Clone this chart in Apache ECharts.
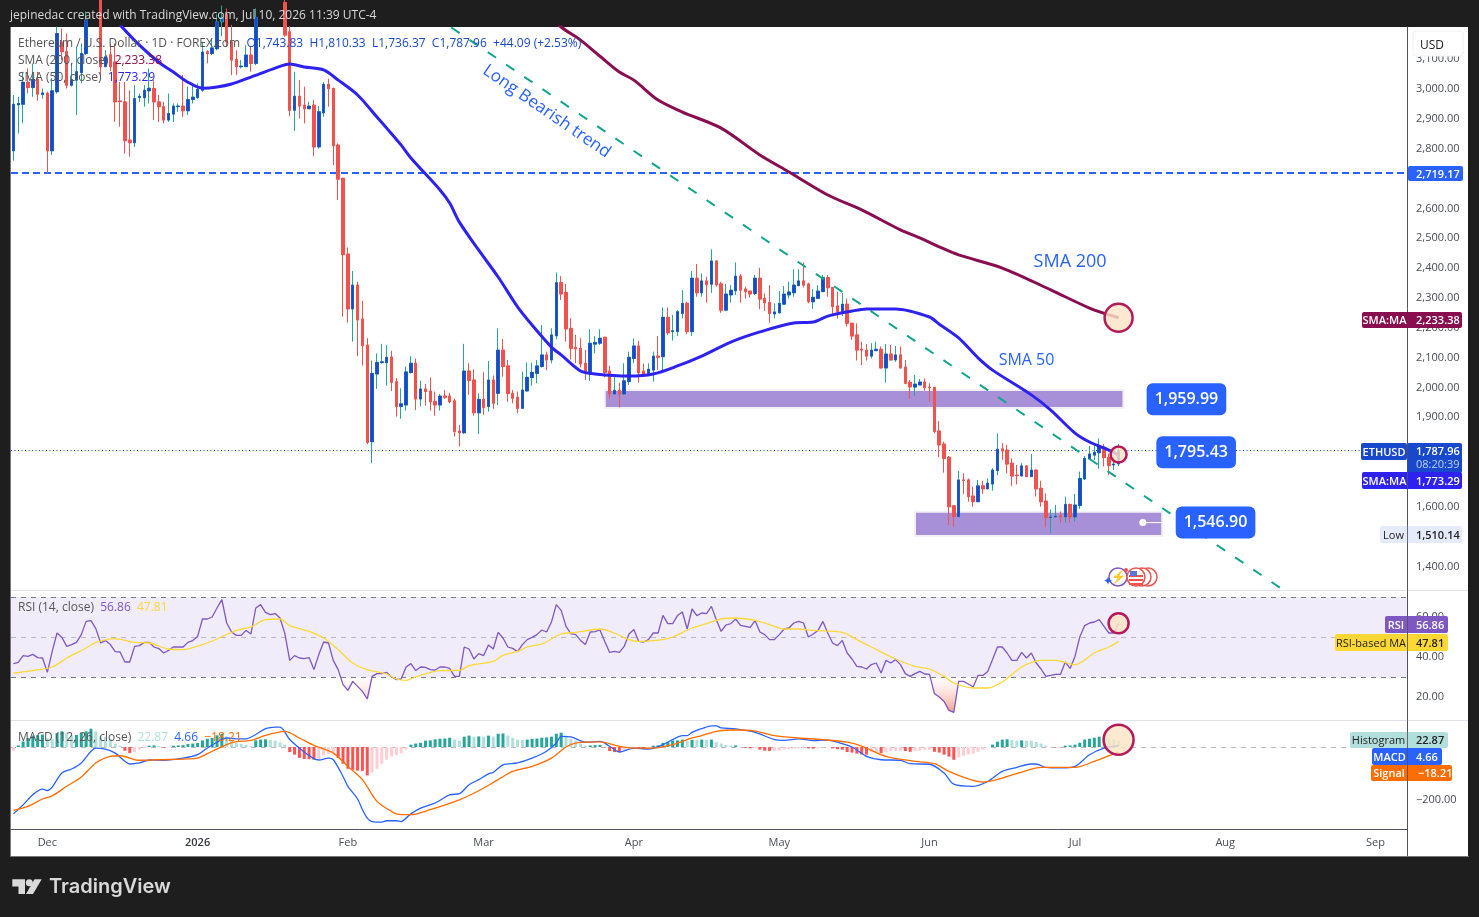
<!DOCTYPE html>
<html><head><meta charset="utf-8">
<style>html,body{margin:0;padding:0;background:#1e1e1e;overflow:hidden}#c{width:1479px;height:917px}</style>
<script src="https://cdn.jsdelivr.net/npm/echarts@6/dist/echarts.min.js"></script>
</head><body><div id="c"></div>
<script>
// Daily bars from 24 Nov 2025: open, close, low, high (bars above the visible window are estimates)
const candles=[
[2793,2949,2760,2980],[2947,2952,2851,2974],[2949,3023,2885,3058],[3023,3005,2985,3069],[3005,3032,2974,3086],
[3032,2983,2961,3058],[2982,2987,2968,3002],[2986,2793,2717,2991],[2793,2994,2779,3036],[2991,3186,2985,3209],
[3157,3125,3097,3203],[3126,3013,3002,3186],[3013,3032,3008,3086],[3030,3058,2913,3142],[3055,3119,3019,3153],
[3119,3231,3114,3260],[3232,3280,3215,3310],[3280,3300,3225,3340],[3300,3075,3041,3320],[3075,3108,3075,3130],
[3115,3075,3060,3150],[3091,2957,2890,3153],[2960,2958,2874,3024],[2957,2827,2784,3024],[2829,2820,2773,2996],
[2820,2968,2806,3013],[2972,2976,2957,2985],[2971,2996,2941,3013],[2994,3003,2952,3069],[3002,2957,2896,3030],
[2957,2941,2890,2980],[2941,2896,2885,2957],[2896,2918,2890,2985],[2916,2943,2890,2952],[2941,2943,2924,2952],
[2943,2927,2907,3047],[2927,2965,2913,3008],[2965,2973,2952,3019],[2971,2999,2968,3019],[2996,3124,2991,3158],
[3125,3119,3086,3130],[3119,3138,3114,3170],[3135,3225,3130,3250],[3225,3240,3177,3280],[3250,3158,3142,3270],
[3158,3097,3047,3215],[3099,3075,3047,3130],[3075,3077,3069,3097],[3075,3114,3075,3147],[3114,3086,3058,3142],
[3086,3240,3080,3270],[3240,3280,3215,3310],[3280,3320,3240,3350],[3320,3340,3280,3370],[3340,3310,3270,3380],
[3310,3290,3250,3340],[3290,3181,3175,3310],[3192,2929,2909,3210],[2929,2976,2860,3058],[2976,2943,2901,3030],
[2946,2934,2885,3008],[2934,2943,2933,2957],[2946,2806,2775,2963],[2806,2924,2800,2943],[2920,3016,2907,3024],
[3016,3002,2941,3035],[3002,2810,2745,3005],[2812,2698,2628,2818],[2701,2445,2237,2702],[2447,2263,2217,2469],
[2263,2343,2153,2390],[2343,2226,2105,2354],[2229,2140,2073,2290],[2142,1816,1810,2165],[1818,2047,1746,2090],
[2045,2084,1995,2114],[2083,2086,2080,2146],[2083,2101,2006,2142],[2102,2017,1988,2123],[2019,1936,1902,2031],
[1936,1945,1895,1997],[1941,2052,1922,2070],[2050,2081,2047,2105],[2081,1961,1924,2097],[1961,1995,1936,2022],
[1995,1986,1939,2012],[1988,1952,1922,2034],[1953,1941,1905,1986],[1941,1971,1922,1978],[1971,1967,1961,1991],
[1971,1952,1947,1982],[1955,1852,1835,1963],[1854,1848,1802,1874],[1848,2055,1844,2146],[2055,2023,1975,2081],
[2025,1915,1905,2061],[1915,1960,1844,1980],[1960,1933,1908,2051],[1936,2025,1919,2089],[2025,1947,1928,2040],
[1980,2125,1941,2198],[2125,2070,2036,2162],[2072,1980,1952,2092],[1980,1964,1947,1991],[1967,1930,1913,1986],
[1930,1991,1928,2053],[1988,2034,1986,2084],[2033,2050,2006,2083],[2047,2072,2014,2092],[2070,2109,2067,2209],
[2109,2092,2058,2120],[2092,2176,2081,2198],[2173,2351,2161,2385],[2351,2313,2293,2373],[2318,2196,2153,2347],
[2198,2131,2094,2232],[2134,2129,2081,2176],[2131,2079,2067,2165],[2081,2047,2025,2125],[2047,2148,2022,2195],
[2145,2151,2114,2172],[2148,2165,2142,2195],[2168,2050,2034,2170],[2055,1978,1963,2072],[1978,1990,1977,2042],
[1990,1978,1933,2016],[1978,2022,1975,2081],[2020,2101,2008,2120],[2097,2139,2081,2164],[2139,2049,2016,2156],
[2055,2042,2035,2080],[2042,2061,2038,2081],[2058,2105,2019,2120],[2105,2101,2058,2172],[2103,2235,2058,2268],
[2235,2183,2176,2268],[2187,2190,2157,2243],[2187,2254,2172,2259],[2248,2282,2231,2326],[2282,2187,2178,2287],
[2187,2366,2173,2390],[2366,2317,2304,2414],[2317,2357,2304,2382],[2357,2344,2284,2371],[2346,2424,2317,2463],
[2424,2344,2338,2424],[2347,2259,2250,2354],[2259,2313,2255,2347],[2310,2326,2284,2343],[2324,2373,2310,2419],
[2373,2326,2284,2380],[2330,2321,2298,2338],[2323,2313,2301,2323],[2315,2366,2310,2377],[2366,2296,2262,2401],
[2298,2284,2256,2315],[2285,2248,2217,2343],[2246,2253,2231,2282],[2250,2282,2248,2323],[2279,2313,2279,2340],
[2310,2320,2298,2354],[2317,2343,2304,2396],[2341,2357,2341,2396],[2357,2343,2335,2419],[2347,2287,2282,2351],
[2287,2302,2263,2330],[2298,2323,2298,2343],[2321,2368,2321,2377],[2368,2334,2304,2377],[2335,2271,2239,2335],
[2273,2254,2231,2321],[2254,2279,2239,2317],[2279,2215,2204,2298],[2215,2172,2159,2215],[2176,2125,2090,2215],
[2128,2125,2075,2153],[2125,2105,2090,2145],[2105,2125,2097,2148],[2123,2128,2123,2153],[2128,2065,2064,2137],
[2065,2112,2016,2145],[2112,2092,2090,2142],[2092,2109,2086,2139],[2109,2065,2064,2137],[2068,2014,2011,2092],
[2017,2002,1961,2025],[2001,2011,1971,2042],[2008,2018,2008,2028],[2018,1999,1989,2030],[2001,1999,1952,2014],
[2000,1852,1846,2001],[1854,1807,1766,1887],[1810,1762,1714,1818],[1766,1600,1539,1770],[1603,1567,1533,1606],
[1567,1690,1567,1720],[1690,1688,1643,1712],[1690,1634,1617,1695],[1636,1617,1600,1667],[1617,1670,1615,1690],
[1670,1660,1643,1687],[1660,1679,1658,1695],[1676,1723,1654,1729],[1721,1793,1706,1846],[1794,1787,1757,1813],
[1790,1743,1712,1807],[1746,1703,1670,1762],[1706,1704,1675,1740],[1703,1737,1701,1746],[1737,1701,1700,1738],
[1701,1723,1700,1777],[1723,1660,1634,1725],[1662,1617,1600,1687],[1619,1564,1531,1645],[1564,1566,1510,1591],
[1566,1568,1563,1606],[1570,1566,1547,1584],[1566,1608,1547,1634],[1608,1566,1547,1610],[1566,1606,1550,1643],
[1604,1695,1593,1718],[1693,1762,1690,1770],[1760,1777,1757,1804],[1773,1783,1757,1807],[1781,1801,1727,1829],
[1799,1765,1735,1810],[1766,1738,1706,1778],[1740,1743,1723,1766],[1743.83,1787.96,1736.37,1810.33]
];
// SMA 50 and SMA 200: [bar number, value] read at points along each line
const sma50=[[22,3215],[26,3147],[30,3090],[33,3057],[36,3023],[39,3003],[42,3007],[45,3017],[49,3040],[54,3070],[57,3084],[60,3074],[64,3064],[67,3030],[71,2980],[75,2906],[77,2869],[80,2812],[82,2769],[88,2662],[90,2618],[92,2554],[96,2460],[100,2370],[104,2270],[107,2209],[111,2135],[113,2109],[117,2055],[120,2045],[127,2038],[132,2045],[137,2072],[142,2105],[148,2152],[154,2186],[161,2216],[165,2219],[168,2239],[173,2256],[176,2263],[182,2263],[189,2236],[191,2212],[195,2166],[199,2099],[202,2058],[210,1975],[214,1924],[219,1847],[222,1817],[225,1797],[228,1773.29]];
const sma200=[[110,3258],[113,3208],[117,3164],[121,3110],[125,3057],[128,3030],[133,2963],[138,2923],[146,2869],[154,2779],[160,2722],[168,2645],[175,2595],[183,2528],[187,2501],[191,2471],[195,2444],[204,2400],[214,2327],[222,2266],[228,2233.38]];
const trendLine=[[90,3210],[262,1321]];
const resistanceLevel=2719.17, lastClose=1787.96;
const rsi=[36.7,37.3,40.7,40.3,41.3,39.7,39.5,32.3,42.8,52,
49.8,45.3,46.2,47.3,51.2,57.8,58.2,54.2,47,48.2,
46.2,42.7,42.5,37.5,37.5,45.3,45.7,47.3,47.3,45,
44.2,42,43.3,45,45,45,47.3,48.2,50.3,59,
59,60,64.5,68.7,57,52.5,50.8,50.8,53.3,51.5,
64.5,66.2,62.3,61.2,61.7,59.5,51.7,38.3,40.7,39.5,
39.2,39.7,33.7,41.2,47.5,47,38.2,33.7,26.2,23.3,
27.8,25.3,22.8,19,30.3,31.7,31.7,32.3,30,28.7,
29,35,36.7,33.2,35,34.8,33.7,33.5,35,35,
34.3,30.3,30.3,45,44,39,41.7,40.7,46,44,
52.3,49.5,45,44.3,42.7,46.2,48.7,49.8,51.2,53.5,
52.5,57.5,66.2,63.3,55.3,51.7,51.2,48.3,46.2,52.5,
52.7,53.5,47.8,42.3,42.8,42.3,45.3,51.5,53.7,47.8,
47.5,48.7,52,52,60.8,56.7,56.7,60.7,62.5,54,
64,60.7,62,61.7,65.3,58.7,52.8,56,56.7,59,
55.8,55.3,54.8,58.2,52.5,51.2,48.7,48.7,51.2,54,
54.5,57,57.8,57,50,51.5,53.3,57.8,52,47,
45.7,48.3,42,39,35.3,35,34,36.2,37,32,
38.3,37,38.7,36.2,31.7,30.3,31.7,32.8,31.5,31.3,
21.7,20,17.8,13.3,12.3,27.8,27.8,26.5,25,30.8,
30.8,32.8,38.7,45,45,42,38.3,38.3,42.3,39.5,
42,37,34,30.3,30.8,31.3,31.3,37.5,34.3,40.3,
50,55.7,57,57.5,58.7,55.3,52,52,56.86];
const rsiMA=[[0,32],[4,33.2],[8,35],[11,39.5],[15,44.5],[17,47.3],[21,49.2],[25,47.3],[28,47],[32,44],[35,43.7],[39,46.2],[42,49],[46,53.3],[49,55],[52,58.7],[55,59],[57,55.7],[61,52.8],[64,49.5],[67,43.7],[70,37],[73,33.7],[77,31.5],[79,29],[81,28.3],[83,30],[88,33.2],[92,33.3],[94,35.7],[99,37.8],[101,40.8],[104,42.8],[106,45],[109,46.5],[113,51.5],[116,52.3],[121,54],[124,52],[127,48.7],[129,47.8],[134,48.7],[136,50],[140,54.5],[143,56.7],[146,59],[149,59.5],[153,58.3],[156,56.2],[159,54],[162,54],[165,53.3],[171,52.3],[174,48.7],[177,45],[182,39],[186,35.3],[189,34],[192,30.3],[194,27],[198,24.5],[201,24.5],[204,27.5],[208,35],[212,38.3],[215,38.3],[219,36.2],[223,42],[226,45],[228,47.81]];
const rsiLevels=[70,50,30];
const histogram=[-14,6,21,34,43,44,47,33,30,53,
59,52,44,45,53,59,69,59,40,39,
31,13,5,-14,-23,-19,-10,-4,5,6,
3,-2,-1,5,6,7,11,13,15,25,
31,34,44,50,40,28,15,12,9,3,
25,28,29,27,24,18,9,-19,-29,-41,
-45,-46,-48,-45,-31,-26,-24,-41,-63,-82,
-86,-89,-90,-107,-96,-82,-63,-48,-35,-31,
-24,-10,9,13,16,24,25,29,31,32,
35,28,24,39,43,39,40,39,43,39,
50,51,43,35,28,27,28,31,32,35,
36,39,50,54,43,31,24,13,5,6,
7,8,-1,-15,-19,-20,-13,-5,-4,-7,
-8,-5,5,6,16,20,24,25,28,24,
27,26,28,27,28,18,13,8,5,6,
-0.5,-3,-5,-3,-10,-14,-15,-14.5,-14,-10,
-8,-6,-5,-3,-5,-6,-5,-2,-1,-5,
-8,-10,-19,-21,-25,-28,-29,-20,-19,-23,
-20,-16,-15,-14,-15,-18,-15,-14,-11,-10,
-18,-21,-29,-36,-48,-39,-33,-28,-25,-18,
-10,-1,9,20,28,29,27,24,25,24,
23,19,13,5,1,-1,-1.5,5,6,9,
16,28,31,35,39,35,31,28,22.87];
const macdLine=[[0,-252],[2,-218],[4,-180],[6,-159],[7,-164],[8,-151],[10,-98],[12,-83],[14,-60],[16,-16],[17,-4],[19,-8],[21,-23],[23,-54],[24,-64],[26,-60],[28,-49],[31,-50],[35,-42],[38,-29],[40,-4],[42,18],[44,34],[46,31],[48,31],[50,47],[52,69],[54,75],[55,75],[57,28],[60,-19],[62,-44],[63,-49],[65,-42],[66,-48],[68,-111],[69,-148],[71,-196],[72,-236],[73,-268],[74,-281],[76,-283],[77,-278],[79,-278],[80,-281],[81,-268],[82,-252],[84,-230],[87,-211],[90,-180],[92,-176],[94,-142],[96,-123],[98,-101],[99,-96],[101,-67],[104,-60],[107,-42],[110,-16],[112,15],[113,40],[115,38],[118,18],[121,21],[123,3],[125,-19],[128,-4],[131,-8],[134,9],[136,28],[138,43],[139,43],[140,55],[142,69],[144,80],[145,80],[146,72],[149,68],[153,55],[157,28],[159,25],[162,31],[165,24],[168,26],[170,18],[173,0],[176,-35],[179,-48],[183,-50],[185,-63],[189,-65],[192,-98],[194,-140],[198,-148],[201,-130],[204,-92],[207,-77],[210,-64],[211,-64],[213,-77],[216,-79],[219,-73],[222,-29],[225,-4],[228,4.66]];
const signalLine=[[0,-239],[3,-224],[6,-196],[8,-184],[11,-148],[14,-113],[17,-60],[20,-35],[22,-33],[26,-50],[30,-48],[36,-45],[38,-42],[41,-16],[44,9],[46,20],[49,25],[52,44],[55,57],[56,59],[59,34],[62,6],[66,-23],[69,-73],[72,-123],[75,-205],[78,-243],[79,-252],[80,-255],[82,-255],[86,-236],[92,-199],[96,-165],[100,-123],[103,-92],[107,-73],[111,-42],[114,0],[116,15],[121,19],[125,3],[128,-4],[132,-4],[136,9],[140,34],[142,43],[145,59],[149,64],[153,60],[157,43],[162,34],[167,28],[172,18],[175,3],[180,-35],[186,-54],[190,-63],[193,-92],[197,-120],[200,-132],[204,-117],[210,-83],[212,-77],[219,-77],[223,-54],[228,-18.21]];
const zoneUpper={from:122,to:229,top:1991,bottom:1931};
const zoneLower={from:186,to:237,top:1583,bottom:1502};
const priceTicks=[1400,1500,1600,1700,1900,2000,2100,2200,2300,2400,2500,2600,2800,2900,3000,3100];
const rsiTicks=[20,40,60];
const macdTicks=[-200,0];
const monthNames=['Jan','Feb','Mar','Apr','May','Jun','Jul','Aug','Sep','Oct','Nov','Dec'];
const totalBars=288;
const dates=[];for(let k=0;k<totalBars;k++){dates.push(new Date(Date.UTC(2025,10,24+k)).toISOString().slice(0,10));}

const UP='#1848cc',DOWN='#f0524f',WICKUP='#26a69a';
const FONT='"Open Sans","Noto Sans",sans-serif';
const fmt=v=>{const s=Math.abs(v).toLocaleString('en-US',{minimumFractionDigits:2,maximumFractionDigits:2});return (v<0?'\u2212':'')+s;};
const bodies=candles.map(c=>[c[0],c[1],Math.min(c[0],c[1]),Math.max(c[0],c[1])]);
const oversold=rsi.map(v=>Math.min(v,30));

const xBase=(g,show)=>({type:'category',gridIndex:g,data:dates,
 axisLine:{show:show,onZero:false,lineStyle:{color:'#50535e',width:1}},axisTick:{show:false},splitLine:{show:false},
 axisLabel:{show:show,margin:8,color:'#4a4d57',fontSize:11,fontFamily:FONT,
  interval:(i,v)=>v.slice(8)==='01',
  formatter:v=>{const m=+v.slice(5,7);return m===1?'{b|'+v.slice(0,4)+'}':monthNames[m-1];},
  rich:{b:{fontWeight:600,color:'#33353d',fontSize:11,fontFamily:FONT}}}});
const yBase=(g,min,max,ticks)=>({type:'value',gridIndex:g,position:'right',min:min,max:max,scale:true,
 axisLine:{show:true,lineStyle:{color:'#50535e',width:1}},axisTick:{show:false},splitLine:{show:false},
 axisLabel:{margin:9,padding:[2,0,0,0],color:'#4a4d57',fontSize:11,fontFamily:FONT,customValues:ticks,formatter:fmt}});

const mark=(x,y,size,xi,yi)=>({type:'scatter',xAxisIndex:xi,yAxisIndex:yi,data:[[x,y]],symbolSize:size,z:6,silent:true,
 itemStyle:{opacity:1,color:'rgba(251,228,196,0.82)',borderColor:'#b5195a',borderWidth:2.5}});
const note=(x,y,text,label)=>({type:'scatter',xAxisIndex:0,yAxisIndex:0,data:[[x,y]],symbolSize:0,z:9,silent:true,clip:false,
 itemStyle:{opacity:1},label:Object.assign({show:true,position:'inside',formatter:text,fontFamily:FONT},label)});
const callout={fontSize:16,fontWeight:600,color:'#fff',backgroundColor:'#2962ff',borderRadius:6,padding:[8,8,8,8]};
const smoothing=0.3;

const series=[
 {name:'wicks',type:'candlestick',xAxisIndex:0,yAxisIndex:0,data:candles,barWidth:3,z:3,silent:true,
  itemStyle:{color:UP,color0:DOWN,borderColor:WICKUP,borderColor0:DOWN,borderWidth:1}},
 {name:'bodies',type:'candlestick',xAxisIndex:0,yAxisIndex:0,data:bodies,barWidth:3,z:3,silent:true,
  itemStyle:{color:UP,color0:DOWN,borderColor:UP,borderColor0:DOWN,borderWidth:0.5}},
 {name:'trend',type:'line',xAxisIndex:0,yAxisIndex:0,data:trendLine,showSymbol:false,z:4,silent:true,
  lineStyle:{color:'#12a58c',width:2,type:[10,12],dashOffset:-2},
  markLine:{silent:true,symbol:'none',label:{show:false},z:2,data:[
   {yAxis:resistanceLevel,lineStyle:{color:'#2962ff',width:2,type:[7,4]}},
   {yAxis:lastClose,lineStyle:{color:'#1848cc',width:1,type:[1,2.5]}}]},
  markArea:{silent:true,z:1,itemStyle:{color:'#a890d8',borderColor:'#f2f1f7',borderWidth:2},data:[
   [{xAxis:dates[zoneUpper.from],yAxis:zoneUpper.top},{xAxis:dates[zoneUpper.to],yAxis:zoneUpper.bottom}],
   [{xAxis:dates[zoneLower.from],yAxis:zoneLower.top},{xAxis:dates[zoneLower.to],yAxis:zoneLower.bottom}]]}},
 {name:'SMA 50',type:'line',xAxisIndex:0,yAxisIndex:0,data:sma50,showSymbol:false,smooth:smoothing,z:5,silent:true,lineStyle:{color:'#2e22f0',width:3}},
 {name:'SMA 200',type:'line',xAxisIndex:0,yAxisIndex:0,data:sma200,showSymbol:false,smooth:smoothing,z:5,silent:true,lineStyle:{color:'#880e4f',width:3}},
 mark(228,2233.38,28,0,0),
 mark(228,1775,16,0,0),
 {type:'line',xAxisIndex:0,yAxisIndex:0,data:[[233,1546.9],[238,1546.9]],showSymbol:false,z:7,silent:true,lineStyle:{color:'#fff',width:1}},
 {type:'scatter',xAxisIndex:0,yAxisIndex:0,data:[[233,1546.9]],symbolSize:7,z:8,silent:true,itemStyle:{color:'#fff',opacity:1}},
 note(242,1959.99,'1,959.99',callout),
 note(244,1783,'1,795.43',callout),
 note(248,1546.9,'1,546.90',callout),
 note(218,2420,'SMA 200',{fontSize:18,color:'#2962ff'}),
 note(209,2092,'SMA 50',{fontSize:16,color:'#2962ff'}),
 note(110,2925,'Long Bearish trend',{fontSize:17,color:'#2962ff',rotate:-34.5}),
 // RSI pane
 {name:'oversold',type:'line',xAxisIndex:1,yAxisIndex:1,data:oversold,showSymbol:false,silent:true,z:3,lineStyle:{width:0},
  areaStyle:{origin:30,color:{type:'linear',x:0,y:0,x2:0,y2:1,colorStops:[{offset:0,color:'rgba(255,200,190,0.05)'},{offset:1,color:'rgba(238,110,80,0.95)'}]}},
  markArea:{silent:true,z:1,itemStyle:{color:'#f0ecf9'},data:[[{yAxis:rsiLevels[0]},{yAxis:rsiLevels[2]}]]},
  markLine:{silent:true,symbol:'none',label:{show:false},z:2,lineStyle:{width:1,type:[5,5]},data:[
   {yAxis:rsiLevels[0],lineStyle:{color:'#787b86'}},{yAxis:rsiLevels[1],lineStyle:{color:'#b8b8c0'}},{yAxis:rsiLevels[2],lineStyle:{color:'#787b86'}}]}},
 {name:'RSI',type:'line',xAxisIndex:1,yAxisIndex:1,data:rsi,showSymbol:false,z:5,silent:true,lineStyle:{color:'#7e57c2',width:1.3}},
 {name:'RSI MA',type:'line',xAxisIndex:1,yAxisIndex:1,data:rsiMA,showSymbol:false,smooth:smoothing,z:5,silent:true,lineStyle:{color:'#fdd835',width:1.3}},
 mark(228,56.86,20,1,1),
 // MACD pane
 {name:'Histogram',type:'bar',xAxisIndex:2,yAxisIndex:2,data:histogram,barWidth:3,z:3,silent:true,
  itemStyle:{color:p=>{const v=histogram[p.dataIndex],pv=p.dataIndex?histogram[p.dataIndex-1]:v;
    return v>=0?(v>pv?'#26a69a':'#b2dfdb'):(v<pv?'#ff5252':'#ffcdd2');}},
  markLine:{silent:true,symbol:'none',label:{show:false},z:2,lineStyle:{color:'#b8b8c0',width:1,type:[5,5]},data:[{yAxis:0}]}},
 {name:'MACD',type:'line',xAxisIndex:2,yAxisIndex:2,data:macdLine,showSymbol:false,smooth:smoothing,z:5,silent:true,lineStyle:{color:'#2962ff',width:1.3}},
 {name:'Signal',type:'line',xAxisIndex:2,yAxisIndex:2,data:signalLine,showSymbol:false,smooth:smoothing,z:5,silent:true,lineStyle:{color:'#ff6d00',width:1.3}},
 mark(228,27,30,2,2)
];

// Page furniture and text
const TOP=50, DY=1.5;
const txt=(x,y,text,o)=>({type:'text',z:TOP,silent:true,style:Object.assign({x:x,y:y+DY,text:text,fontFamily:FONT,fontSize:12,fill:'#555',textVerticalAlign:'middle'},o||{})});
const box=(x,y,w,h,fill,o)=>({type:'rect',silent:true,z:TOP,shape:Object.assign({x:x,y:y,width:w,height:h},o&&o.shape||{}),style:Object.assign({fill:fill},o&&o.style||{})});
const tag=(x0,x1,y0,y1,bg,lab,val,fg)=>[
 box(x0,y0,x1-x0,y1-y0,bg,{shape:{r:2}}),
 lab?txt((x0+1407)/2,(y0+y1)/2-0.5,lab,{fill:fg,fontSize:11,textAlign:'center',fontWeight:fg==='#fff'?600:400}):null,
 txt(x1>1450&&x1<1458?1418:1416,(y0+y1)/2-0.5,val,{fill:fg,fontSize:11,fontWeight:600})
].filter(Boolean);
const rowText=(x,y,parts)=>{ // a run of coloured text in a single element
 const rich={};let s='';parts.forEach((p,i)=>{rich['s'+i]={fill:p[1],fontSize:12,fontFamily:FONT};s+='{s'+i+'|'+p[0]+'}';});
 return {type:'text',z:TOP,silent:true,style:{x:x,y:y+DY,text:s,rich:rich,textVerticalAlign:'middle',fontFamily:FONT,fontSize:12}};};
const graphic=[
 {type:'rect',z:-10,silent:true,shape:{x:11,y:27,width:1457,height:829},style:{fill:'#fff'}},
 {type:'rect',z:-9,silent:true,shape:{x:10,y:27,width:1,height:830},style:{fill:'#787878'}},
 {type:'rect',z:-9,silent:true,shape:{x:10,y:856,width:1459,height:1},style:{fill:'#787878'}},
 box(11,590,1457,1,'#e0e3eb'),box(11,720,1457,1,'#e0e3eb'),box(1407,829,1,27,'#50535e'),
 txt(10,14,'jepinedac created with TradingView.com, Jul 10, 2026 11:39 UTC-4',{fill:'#d8d8d8',fontSize:12}),
 rowText(18,42,[['Ethereum / U.S. Dollar \u00b7 1D \u00b7 FOREX.com  ','#555'],['O1,743.83  H1,810.33  L1,736.37  C1,787.96  +44.09 (+2.53%)','#1848cc']]),
 rowText(18,59,[['SMA (200, close)  ','#555'],['2,233.38','#880e4f']]),
 rowText(18,76,[['SMA (50, close)  ','#555'],['1,773.29','#2e22f0']]),
 rowText(18,606,[['RSI (14, close)  ','#555'],['56.86  ','#7e57c2'],['47.81','#fdd835']]),
 rowText(18,736,[['MACD (12, 26, close)  ','#555'],['22.87  ','#b2dfdb'],['4.66  ','#2962ff'],['\u221218.21','#ff6d00']]),
 box(1413,31,50,25,'#fff',{shape:{r:3},style:{stroke:'#f0f0f3',lineWidth:1}}),
 txt(1420,44,'USD',{fill:'#222',fontSize:12}),
 ...tag(1408,1463,166,181,'#2962ff',null,'2,719.17','#fff'),
 ...tag(1362,1462,312,328,'#880e4f','SMA:MA','2,233.38','#fff'),
 box(1361,443,46,17,'#1848cc',{shape:{r:2}}),box(1407,443,55,30,'#1848cc',{shape:{r:2}}),
 txt(1384,451,'ETHUSD',{fill:'#fff',fontSize:11,fontWeight:600,textAlign:'center'}),
 txt(1416,450,'1,787.96',{fill:'#fff',fontSize:11,fontWeight:600}),
 txt(1416,463,'08:20:39',{fill:'#bcd0f5',fontSize:11}),
 ...tag(1362,1462,472,489,'#2e22f0','SMA:MA','1,773.29','#fff'),
 ...tag(1380,1462,526,543,'#e4ecfb','Low','1,510.14','#222'),
 ...tag(1385,1448,616,633,'#7e57c2','RSI','56.86','#fff'),
 ...tag(1335,1448,634,651,'#fdd835','RSI-based MA','47.81','#222'),
 ...tag(1350,1448,732,748,'#b2dfdb','Histogram','22.87','#222'),
 ...tag(1372,1442,748,765,'#2962ff','MACD','4.66','#fff'),
 ...tag(1371,1452,765,781,'#ff6d00','Signal','\u221218.21','#fff'),
 box(1407,443,1,338,'#50535e',{style:{opacity:0.85}}),
 // event icons
 {type:'circle',z:TOP,silent:true,shape:{cx:1118,cy:577,r:9},style:{fill:'#fff',stroke:'#7e57c2',lineWidth:1.5}},
 txt(1118,576,'\u26A1',{fill:'#8e3fb5',fontSize:12,textAlign:'center'}),
 txt(1108,580,'\u2726',{fill:'#2962ff',fontSize:12,textAlign:'center'}),
 {type:'circle',z:TOP,silent:true,shape:{cx:1148,cy:577,r:9},style:{fill:'#fff',stroke:'#f0524f',lineWidth:1.5}},
 {type:'circle',z:TOP,silent:true,shape:{cx:1142,cy:577,r:9},style:{fill:'#fff',stroke:'#f0524f',lineWidth:1.5}},
 {type:'circle',z:TOP,silent:true,shape:{cx:1136,cy:577,r:9},style:{fill:'#fff',stroke:'#f0524f',lineWidth:1.5}},
 box(1129,575,14,2,'#ef5350'),box(1129,579,14,2,'#ef5350'),box(1129,583,14,2,'#ef5350'),box(1130,571,7,5,'#5a78d8'),
 {type:'circle',z:TOP,silent:true,shape:{cx:1126,cy:570,r:2},style:{fill:'#f0524f'}},
 // logo
 {type:'polygon',z:TOP,silent:true,shape:{points:[[12.3,879.3],[25,879.3],[25,894],[18.5,894],[18.5,886.5],[12.3,886.5]]},style:{fill:'#d9d9d9'}},
 {type:'circle',z:TOP,silent:true,shape:{cx:29.3,cy:882.8,r:3.5},style:{fill:'#d9d9d9'}},
 {type:'polygon',z:TOP,silent:true,shape:{points:[[34.5,879.3],[41.7,879.3],[33,894],[26,894]]},style:{fill:'#d9d9d9'}},
 txt(49,885.5,'TradingView',{fill:'#d9d9d9',fontSize:20,fontWeight:600,fontFamily:'Inter,"Open Sans",sans-serif'})
];

const chart=echarts.init(document.getElementById('c'),null,{renderer:'canvas',width:1479,height:917});
chart.setOption({animation:false,backgroundColor:'#1e1e1e',
 grid:[{left:11,top:27,width:1396,height:563},{left:11,top:591,width:1396,height:129},{left:11,top:721,width:1396,height:108}],
 xAxis:[xBase(0,false),xBase(1,false),xBase(2,true)],
 yAxis:[yBase(0,1321,3208,priceTicks),yBase(1,8.5,73,rsiTicks),yBase(2,-309,98,macdTicks)],
 tooltip:{show:false},legend:{show:false},series:series,graphic:{elements:graphic}});
</script></body></html>
